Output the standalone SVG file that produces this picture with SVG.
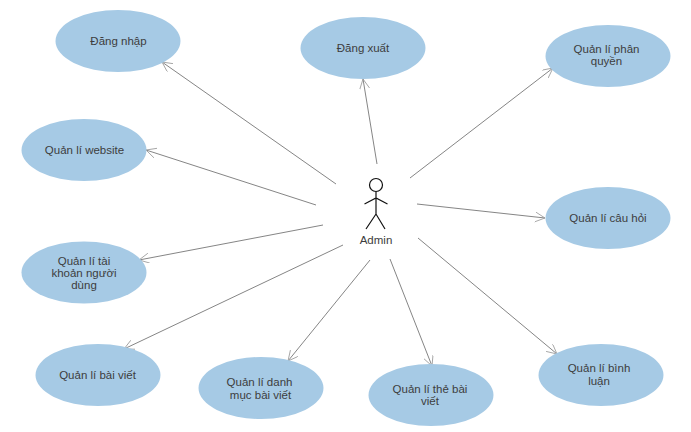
<svg xmlns="http://www.w3.org/2000/svg" width="691" height="432" viewBox="0 0 691 432">
<style>
.n ellipse{fill:#a6cae5;stroke:none}
text{font-family:"Liberation Sans",Arial,sans-serif;font-size:11.5px;fill:#3d3d3d;text-anchor:middle}
.c line{stroke:#666;stroke-width:.8;fill:none;marker-end:url(#a)}
.s{stroke:#111;stroke-width:1.2;fill:none}
</style>
<defs><marker id="a" markerUnits="userSpaceOnUse" markerWidth="12" markerHeight="12" refX="10" refY="5" orient="auto"><path d="M0 0L10 5L0 10" fill="none" stroke="#999" stroke-width=".8"/></marker></defs>
<rect width="691" height="432" fill="#fff"/>
<g class="c" id="connectors">
<line x1="336" y1="184" x2="162" y2="62"/>
<line x1="316" y1="205" x2="146" y2="150"/>
<line x1="323" y1="225" x2="139" y2="260"/>
<line x1="343" y1="245" x2="124" y2="349"/>
<line x1="370" y1="260" x2="288" y2="361"/>
<line x1="390" y1="259" x2="432" y2="366"/>
<line x1="418" y1="238" x2="557" y2="354"/>
<line x1="417" y1="204" x2="545" y2="218"/>
<line x1="410" y1="178" x2="553" y2="68"/>
<line x1="377" y1="164" x2="363" y2="79"/>
</g>
<g id="admin"><circle class="s" cx="376" cy="185" r="6.500"/><path class="s" d="M376 191.500V214M364.500 204L376 198L387.500 204M366 229L376 214L385 229"/><text x="376" y="244">Admin</text></g>
<g class="n" id="dang-nhap"><ellipse cx="118" cy="41" rx="62.500" ry="31"/><text x="118.500" y="45">Đăng nhập</text></g>
<g class="n" id="dang-xuat"><ellipse cx="363" cy="48" rx="62.500" ry="31"/><text x="363" y="52">Đăng xuất</text></g>
<g class="n" id="phan-quyen"><ellipse cx="608" cy="56" rx="62.500" ry="31"/><text x="606.500" y="53">Quản lí phân</text><text x="606.500" y="65">quyền</text></g>
<g class="n" id="website"><ellipse cx="84" cy="150" rx="62.500" ry="31"/><text x="84.500" y="154">Quản lí website</text></g>
<g class="n" id="cau-hoi"><ellipse cx="608" cy="218" rx="62.500" ry="31"/><text x="608" y="222">Quản lí câu hỏi</text></g>
<g class="n" id="tai-khoan"><ellipse cx="84" cy="272.500" rx="62.500" ry="31"/><text x="84" y="264.500">Quản lí tài</text><text x="84" y="277">khoản người</text><text x="84" y="289">dùng</text></g>
<g class="n" id="bai-viet"><ellipse cx="98" cy="375" rx="62.500" ry="31"/><text x="97.500" y="379">Quản lí bài viết</text></g>
<g class="n" id="danh-muc"><ellipse cx="261" cy="388" rx="62.500" ry="31"/><text x="259.500" y="386">Quản lí danh</text><text x="260.500" y="399">mục bài viết</text></g>
<g class="n" id="the-bai-viet"><ellipse cx="431" cy="395" rx="62.500" ry="31"/><text x="430" y="393">Quản lí thẻ bài</text><text x="430" y="405">viết</text></g>
<g class="n" id="binh-luan"><ellipse cx="601" cy="375" rx="62.500" ry="31"/><text x="599" y="372">Quản lí bình</text><text x="599" y="385">luận</text></g>
</svg>
